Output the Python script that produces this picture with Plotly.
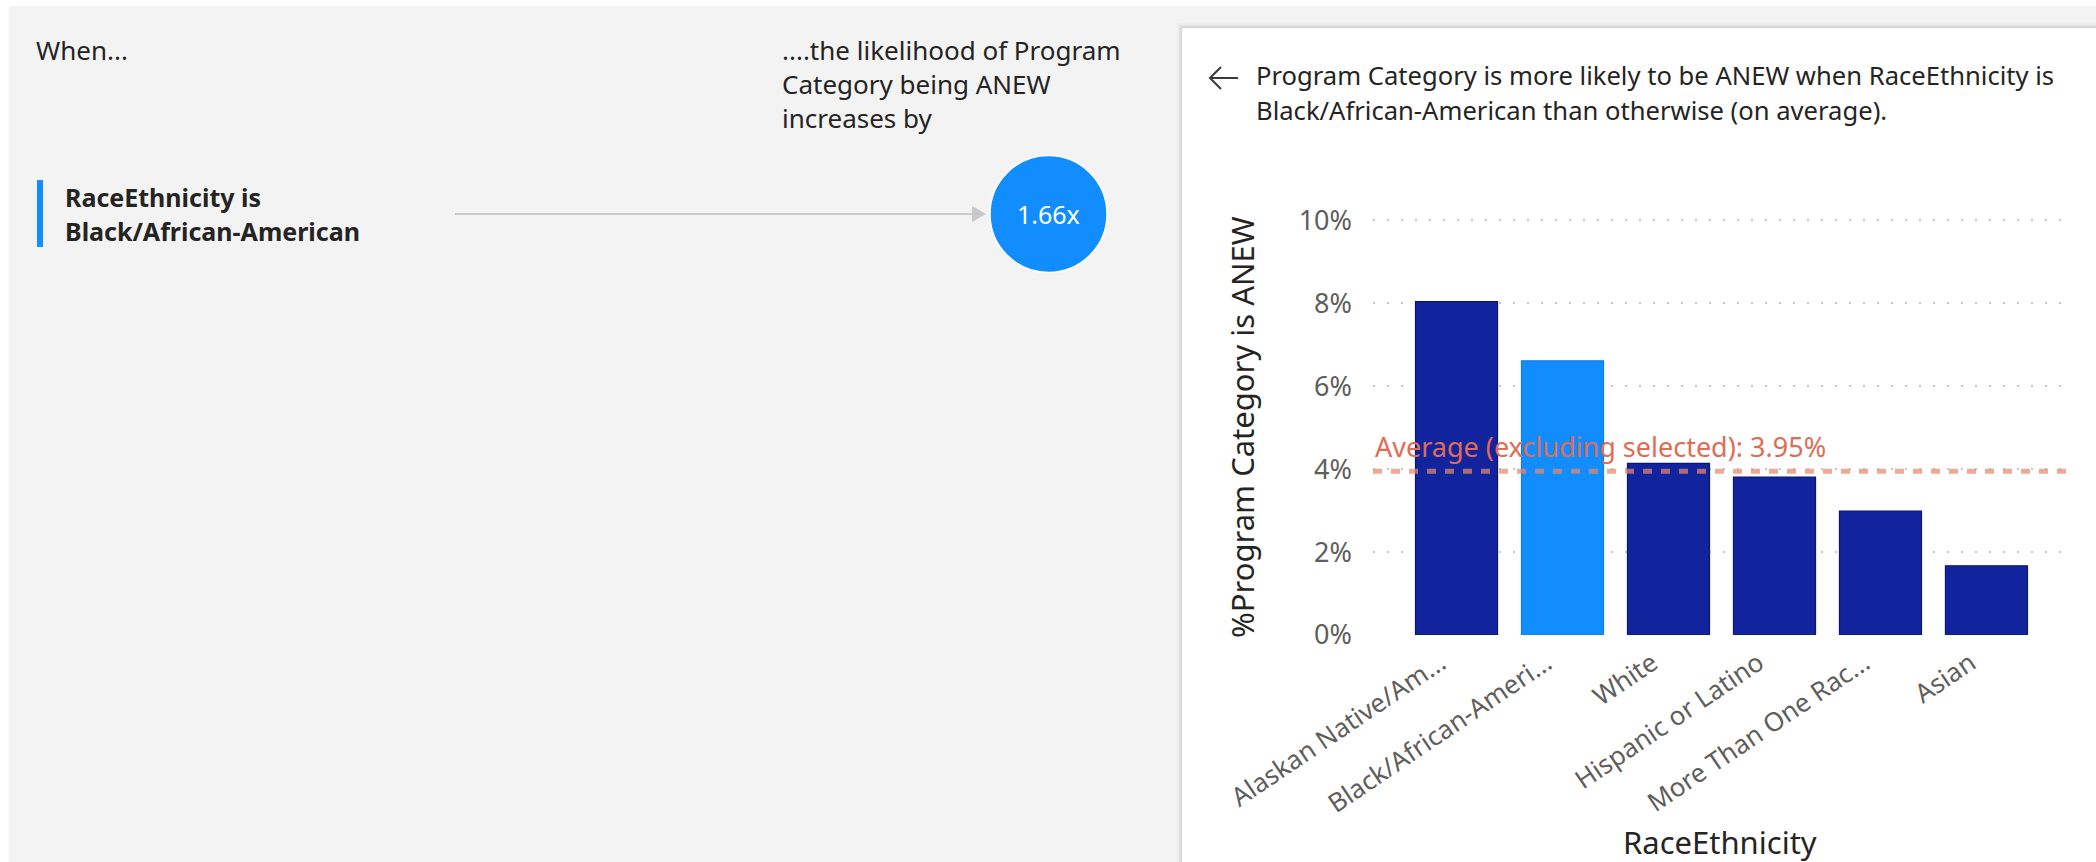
import plotly.graph_objects as go

W, H = 2096, 862

# ---- data ----
categories = ["Alaskan Native/American Indian", "Black/African-American", "White",
              "Hispanic or Latino", "More Than One Race", "Asian"]
tick_labels = ["Alaskan Native/Am...", "Black/African-Ameri...", "White",
               "Hispanic or Latino", "More Than One Rac...", "Asian"]
pct_anew = [0.0804, 0.0661, 0.0414, 0.0381, 0.0299, 0.0167]
selected = "Black/African-American"
average_excl = 0.0395
multiplier = 1.66
y_ticks = [0, 0.02, 0.04, 0.06, 0.08, 0.10]

DARK = "#12239E"
SEL = "#118DFF"
FONT = "Noto Sans"
TXT = "#252423"
SUB = "#605E5C"


def px(x):
    return x / W


def py(y):
    return 1 - y / H


colors = [SEL if c == selected else DARK for c in categories]
lines = ["#0A1670" if c != selected else "#0E7FE6" for c in categories]

fig = go.Figure()
fig.add_trace(go.Bar(
    x=list(range(len(categories))), y=pct_anew,
    marker=dict(color=colors, line=dict(color=lines, width=1.2)),
    hovertext=categories, showlegend=False,
))

shapes = []
# top / left white strips
shapes.append(dict(type="rect", xref="paper", yref="paper", x0=0, x1=1, y0=py(6), y1=1,
                   fillcolor="white", line_width=0, layer="below"))
shapes.append(dict(type="rect", xref="paper", yref="paper", x0=0, x1=px(9), y0=0, y1=1,
                   fillcolor="white", line_width=0, layer="below"))
# card shadow
for off, a in [(5, 0.025), (3, 0.04), (1.5, 0.07)]:
    shapes.append(dict(type="rect", xref="paper", yref="paper", x0=px(1182 - off), x1=1,
                       y0=0, y1=py(28 - off), fillcolor=f"rgba(0,0,0,{a})", line_width=0,
                       layer="below"))
# card
shapes.append(dict(type="rect", xref="paper", yref="paper", x0=px(1182), x1=1,
                   y0=0, y1=py(28), fillcolor="white", line_width=0, layer="below"))
# left accent bar
shapes.append(dict(type="rect", xref="paper", yref="paper", x0=px(37), x1=px(43),
                   y0=py(247), y1=py(180), fillcolor=SEL, line_width=0))
# connector arrow
shapes.append(dict(type="line", xref="paper", yref="paper", x0=px(455), x1=px(974),
                   y0=py(214), y1=py(214), line=dict(color="#BDBDBD", width=1.5)))
shapes.append(dict(type="path", xref="paper", yref="paper",
                   path=f"M {px(972)} {py(206)} L {px(986)} {py(214)} L {px(972)} {py(222)} Z",
                   fillcolor="#C8C8C8", line_width=0))
# back arrow icon in card header
shapes.append(dict(type="path", xref="paper", yref="paper",
                   path=(f"M {px(1238)} {py(78)} L {px(1210)} {py(78)} "
                         f"M {px(1221)} {py(67)} L {px(1210)} {py(78)} L {px(1221)} {py(89)}"),
                   line=dict(color="#3A3A3A", width=2)))
# circle
cx, cy, r = 1048.5, 214, 58.5
shapes.append(dict(type="circle", xref="paper", yref="paper", x0=px(cx - r), x1=px(cx + r),
                   y0=py(cy + r), y1=py(cy - r), fillcolor=SEL, line=dict(color="white", width=1.5)))
# average line
shapes.append(dict(type="line", xref="x domain", yref="y", x0=0, x1=1,
                   y0=average_excl, y1=average_excl,
                   line=dict(color="rgba(232,136,108,0.72)", width=5, dash="9px,9px"),
                   layer="above"))

annotations = []


def txt(text, x, y, size=26, color=TXT, anchor="left", yanchor="middle", **kw):
    annotations.append(dict(text=text, x=px(x), y=py(y), xref="paper", yref="paper",
                            xanchor=anchor, yanchor=yanchor, showarrow=False,
                            font=dict(family=FONT, size=size, color=color), **kw))


txt("When...", 34, 50)
txt("....the likelihood of Program", 780, 50)
txt("Category being ANEW", 780, 84)
txt("increases by", 780, 117.5)
txt("<b>RaceEthnicity is</b>", 63, 197, size=25)
txt("<b>Black/African-American</b>", 63, 231, size=25)
txt(f"{multiplier:.2f}x", cx, cy, size=25, color="white", anchor="center")
txt("Program Category is more likely to be ANEW when RaceEthnicity is", 1254, 76, size=25.6)
txt("Black/African-American than otherwise (on average).", 1254, 110, size=25.6)
txt("%Program Category is ANEW", 1242, 427, size=31, anchor="center", textangle=-90)
txt("RaceEthnicity", 1720, 842, size=31, anchor="center")

annotations.append(dict(text=f"Average (excluding selected): {average_excl*100:.2f}%",
                        x=0, xref="x domain", y=average_excl, yref="y",
                        xanchor="left", yanchor="bottom", yshift=4, xshift=0, showarrow=False,
                        font=dict(family=FONT, size=27, color="#E06C55")))

fig.update_layout(
    width=W, height=H, margin=dict(l=0, r=0, t=0, b=0, autoexpand=False),
    paper_bgcolor="#F3F3F3", plot_bgcolor="rgba(0,0,0,0)",
    bargap=0.226, shapes=shapes, annotations=annotations, showlegend=False,
    xaxis=dict(domain=[px(1373), px(2072)], range=[-0.788, 5.807], automargin=False,
               tickvals=list(range(len(categories))), ticktext=tick_labels,
               tickangle=-34, ticks="", showgrid=False, zeroline=False, showline=False,
               tickfont=dict(family=FONT, size=26, color=SUB), ticklabelstandoff=7,
               ticklabelshift=-16),
    yaxis=dict(domain=[py(635), py(219)], range=[0, 0.1003], tickvals=y_ticks, automargin=False,
               tickformat=".0%", ticks="", zeroline=False, showline=False,
               showgrid=True, gridcolor="#C8C6C4", gridwidth=1.5, griddash="2px,12px",
               tickfont=dict(family=FONT, size=27, color=SUB), ticklabelstandoff=20),
)

fig.write_html("out.html", config={"displayModeBar": False},
               post_script="document.body.style.margin='0';document.body.style.padding='0';")
